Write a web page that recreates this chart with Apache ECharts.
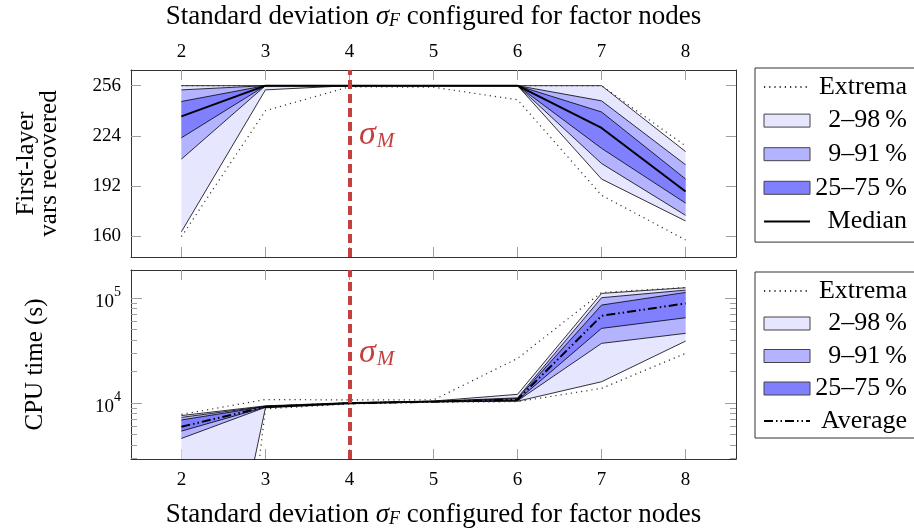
<!DOCTYPE html>
<html><head><meta charset="utf-8">
<script src="https://cdn.jsdelivr.net/npm/echarts@6/dist/echarts.min.js"></script>
<style>html,body{margin:0;padding:0;background:#fff}#c{width:914px;height:529px}</style>
</head><body><div id="c"></div>
<script>
// ---------- data ----------
const xValues = [2, 3, 4, 5, 6, 7, 8];
const xTickValues = [2, 3, 4, 5, 6, 7, 8];

// First-layer vars recovered
const varsMin    = [159.6, 240.0, 255.3, 255.0, 247.0, 186.0, 157.5];
const varsP02    = [162.7, 253.3, 256.0, 256.0, 256.0, 196.4, 169.6];
const varsP09    = [209.1, 256.0, 256.0, 256.0, 256.0, 206.3, 173.2];
const varsP25    = [222.7, 256.0, 256.0, 256.0, 256.0, 216.0, 181.0];
const varsMedian = [236.4, 256.0, 256.0, 256.0, 256.0, 229.0, 188.4];
const varsP75    = [245.9, 256.0, 256.0, 256.0, 256.0, 239.2, 196.4];
const varsP91    = [253.3, 256.0, 256.0, 256.0, 256.0, 246.3, 205.5];
const varsP98    = [256.0, 256.0, 256.0, 256.0, 256.0, 256.0, 213.9];
const varsMax    = [256.0, 256.0, 256.0, 256.0, 256.0, 256.0, 217.5];
const varsTicks  = [160, 192, 224, 256];

// CPU time (s)
const cpuMin     = [0.002, 8800, 9800, 10200, 10300, 13800, 29700];
const cpuP02     = [1.5,   9000, 9850, 10250, 10400, 15950, 38900];
const cpuP09     = [4600,  9100, 9900, 10280, 10500, 37000, 46100];
const cpuP25     = [5400,  9150, 9950, 10300, 10600, 51400, 64900];
const cpuAverage = [5950,  9200, 9950, 10300, 10800, 67700, 88900];
const cpuP75     = [6900,  9250, 10000, 10350, 11000, 85700, 113000];
const cpuP91     = [7300,  9300, 10050, 10400, 11200, 100700, 119000];
const cpuP98     = [7600,  9400, 10100, 10450, 12100, 110700, 125300];
const cpuMax     = [7800, 10800, 10700, 10700, 26600, 113000, 126000];
const cpuMajorTicks = [1e4, 1e5];
const cpuMinorTicks = [3000,4000,5000,6000,7000,8000,9000,20000,30000,40000,50000,60000,70000,80000,90000];

const legendNames = ['Extrema', '2–98\u202F%', '9–91\u202F%', '25–75\u202F%'];
const legendTopLast = 'Median';
const legendBottomLast = 'Average';

// ---------- styling ----------
const FONT = 'Liberation Serif';
const C_LIGHT = '#e6e6ff', C_MID = '#b3b3ff', C_DARK = '#8080ff';
const RED = '#c43f3f';
const TICK = '#a0a0a0';
const log10 = v => Math.log10(v);
const ident = v => v;

const chart = echarts.init(document.getElementById('c'), null, {renderer: 'canvas'});

function band(name, lo, hi, color, xi, yi, tf) {
  const data = xValues.map((x, i) => [x, tf(lo[i]), tf(hi[i])]);
  return {
    type: 'custom', name, xAxisIndex: xi, yAxisIndex: yi, clip: true, silent: true,
    itemStyle: {color},
    encode: {x: 0, y: [1, 2]},
    renderItem: (params, api) => {
      if (params.dataIndex !== 0) return null;
      const up = data.map(d => api.coord([d[0], d[2]]));
      const dn = data.map(d => api.coord([d[0], d[1]])).reverse();
      return {type: 'polygon', shape: {points: up.concat(dn)}, style: {fill: color, stroke: null}};
    },
    data, z: 1
  };
}
function line(name, vals, xi, yi, tf, ls, z) {
  return {
    type: 'line', name, xAxisIndex: xi, yAxisIndex: yi, silent: true,
    symbol: 'none', showSymbol: false, clip: true, animation: false,
    lineStyle: ls, itemStyle: {color: ls.color},
    data: xValues.map((x, i) => [x, tf(vals[i])]), z: z || 3
  };
}
const edge = {color: '#000', width: 0.8};
const dotted = {color: '#333', width: 1.2, type: [1.2, 4]};
const redLine = {
  silent: true, symbol: ['none', 'none'], label: {show: false},
  lineStyle: {color: RED, width: 4, type: [9, 5]}, data: [{xAxis: 4}], animation: false
};

function xAxisDef(grid, pos, showLabels, name, nameGap) {
  return {
    type: 'value', gridIndex: grid, position: pos, min: 1.4, max: 8.6,
    axisLine: {show: true, onZero: false, lineStyle: {color: '#333', width: 1}},
    axisTick: {show: true, inside: true, length: 10, customValues: xTickValues, lineStyle: {color: TICK, width: 1}},
    axisLabel: {show: showLabels, customValues: xTickValues, margin: pos === 'top' ? 8 : 12, fontFamily: FONT, fontSize: 19, color: '#000'},
    splitLine: {show: false},
    name: name || '', nameLocation: 'middle', nameGap: nameGap || 0,
    nameTextStyle: {fontFamily: FONT, fontSize: 27, color: '#000',
      rich: {i: {fontFamily: FONT, fontSize: 27, fontStyle: 'italic', color: '#000'},
             s: {fontFamily: FONT, fontSize: 18, fontStyle: 'italic', color: '#000', verticalAlign: 'bottom', lineHeight: 18, padding: [11, 0, 0, 0]}}}
  };
}
const xName = 'Standard deviation {i|σ}{s|F} configured for factor nodes';

const yTop = (pos, labels) => ({
  type: 'value', gridIndex: 0, position: pos, min: 146.6, max: 266,
  axisLine: {show: true, onZero: false, lineStyle: {color: '#333', width: 1}},
  axisTick: {show: true, inside: true, length: 10, customValues: varsTicks, lineStyle: {color: TICK}},
  axisLabel: {show: labels, customValues: varsTicks, margin: 10, fontFamily: FONT, fontSize: 19, color: '#000'},
  splitLine: {show: false},
  name: labels ? 'First-layer\nvars recovered' : '', nameLocation: 'middle', nameGap: 70,
  nameTextStyle: {fontFamily: FONT, fontSize: 25, lineHeight: 23, color: '#000'}
});
const cpuMinLog = 3.467, cpuMaxLog = 5.267;
const yBot = (pos, major, labels) => ({
  type: 'value', gridIndex: 1, position: pos, min: cpuMinLog, max: cpuMaxLog,
  axisLine: {show: major, onZero: false, lineStyle: {color: '#333', width: 1}},
  axisTick: {show: true, inside: true, length: major ? 11 : 6,
    customValues: (major ? cpuMajorTicks : cpuMinorTicks).map(log10), lineStyle: {color: TICK}},
  axisLabel: {show: labels, customValues: cpuMajorTicks.map(log10), margin: 10, fontFamily: FONT, fontSize: 19, color: '#000',
    formatter: v => '{b|10}{p|' + Math.round(v) + '}',
    rich: {b: {fontFamily: FONT, fontSize: 19, lineHeight: 26, verticalAlign: 'bottom'},
           p: {fontFamily: FONT, fontSize: 14, lineHeight: 14, verticalAlign: 'top'}}},
  splitLine: {show: false},
  name: labels ? 'CPU time (s)' : '', nameLocation: 'middle', nameGap: 83,
  nameTextStyle: {fontFamily: FONT, fontSize: 25, color: '#000'}
});

const hiddenSymbol = {color: 'rgba(0,0,0,0)', borderWidth: 0, opacity: 0};
function legendDef(top, last, gap, padTop, padBottom) {
  const data = [
    {name: legendNames[0], itemStyle: hiddenSymbol},
    {name: legendNames[1], icon: 'rect', itemStyle: {color: C_LIGHT, borderColor: '#444', borderWidth: 1}},
    {name: legendNames[2], icon: 'rect', itemStyle: {color: C_MID, borderColor: '#444', borderWidth: 1}},
    {name: legendNames[3], icon: 'rect', itemStyle: {color: C_DARK, borderColor: '#444', borderWidth: 1}},
    {name: last, itemStyle: hiddenSymbol}
  ];
  return {
    orient: 'vertical', left: 755, top, data, selectedMode: false,
    itemWidth: 46, itemHeight: 13, itemGap: gap,
    padding: [padTop, 30, padBottom, 8], borderColor: '#333', borderWidth: 1, backgroundColor: '#fff',
    formatter: n => '{r|' + n + '}',
    textStyle: {fontFamily: FONT, fontSize: 26, color: '#000',
      rich: {r: {fontFamily: FONT, fontSize: 26, width: 92, align: 'right', lineHeight: 25}}}
  };
}

const sigmaRich = {
  s: {fontFamily: FONT, fontStyle: 'italic', fontSize: 34, fill: RED, verticalAlign: 'bottom', lineHeight: 34},
  m: {fontFamily: FONT, fontStyle: 'italic', fontSize: 21, fill: RED, verticalAlign: 'bottom', lineHeight: 21, padding: [12, 0, 0, 1]}
};

const series = [
  // top grid
  band('2–98\u202F%', varsP02, varsP98, C_LIGHT, 0, 0, ident),
  band('9–91\u202F%', varsP09, varsP91, C_MID, 0, 0, ident),
  band('25–75\u202F%', varsP25, varsP75, C_DARK, 0, 0, ident),
  line('e1', varsP02, 0, 0, ident, edge), line('e2', varsP98, 0, 0, ident, edge),
  line('e3', varsP09, 0, 0, ident, edge), line('e4', varsP91, 0, 0, ident, edge),
  line('e5', varsP25, 0, 0, ident, edge), line('e6', varsP75, 0, 0, ident, edge),
  line('Extrema', varsMin, 0, 0, ident, dotted), line('Extrema', varsMax, 0, 0, ident, dotted),
  Object.assign(line('Median', varsMedian, 0, 0, ident, {color: '#000', width: 2}, 4), {markLine: redLine}),
  // bottom grid
  band('2–98\u202F%', cpuP02, cpuP98, C_LIGHT, 2, 2, log10),
  band('9–91\u202F%', cpuP09, cpuP91, C_MID, 2, 2, log10),
  band('25–75\u202F%', cpuP25, cpuP75, C_DARK, 2, 2, log10),
  line('f1', cpuP02, 2, 2, log10, edge), line('f2', cpuP98, 2, 2, log10, edge),
  line('f3', cpuP09, 2, 2, log10, edge), line('f4', cpuP91, 2, 2, log10, edge),
  line('f5', cpuP25, 2, 2, log10, edge), line('f6', cpuP75, 2, 2, log10, edge),
  line('Extrema', cpuMin, 2, 2, log10, dotted), line('Extrema', cpuMax, 2, 2, log10, dotted),
  Object.assign(line('Average', cpuAverage, 2, 2, log10, {color: '#000', width: 2, type: [9, 3, 1.5, 3, 1.5, 3]}, 4), {markLine: redLine})
];

chart.setOption({
  animation: false,
  backgroundColor: '#fff',
  grid: [
    {left: 131, top: 68, width: 605, height: 189},
    {left: 131, top: 270, width: 605, height: 189}
  ],
  xAxis: [
    xAxisDef(0, 'bottom', false),
    xAxisDef(0, 'top', true, xName, 40),
    xAxisDef(1, 'bottom', true, xName, 42),
    xAxisDef(1, 'top', false)
  ],
  yAxis: [
    yTop('left', true), yTop('right', false),
    yBot('left', true, true), yBot('left', false, false),
    yBot('right', true, false), yBot('right', false, false)
  ],
  legend: [legendDef(68, legendTopLast, 7.6, 6, 7.7), legendDef(272, legendBottomLast, 6.5, 6, 4)],
  graphic: [
    {type: 'text', left: 359, top: 118, silent: true, style: {text: '{s|σ}{m|M}', rich: sigmaRich}},
    {type: 'text', left: 359, top: 336, silent: true, style: {text: '{s|σ}{m|M}', rich: sigmaRich}}
  ],
  series
});
</script></body></html>
